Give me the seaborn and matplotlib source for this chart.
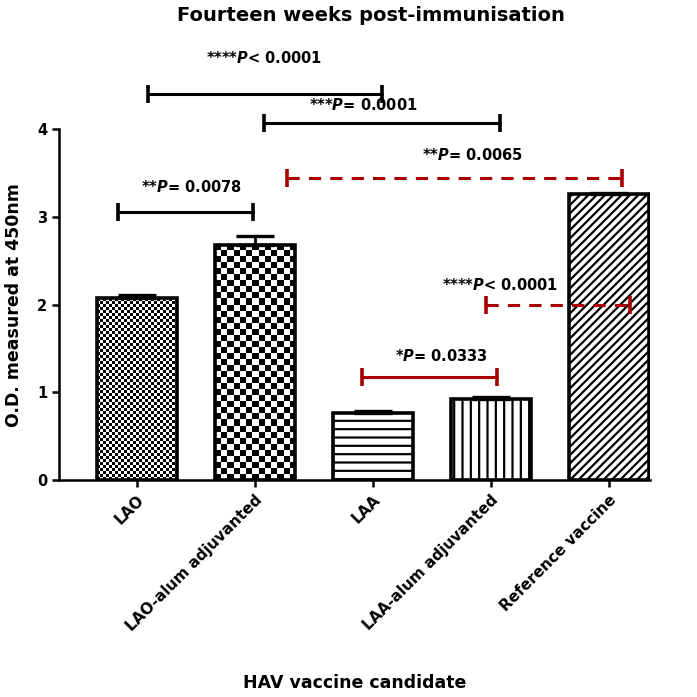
import matplotlib
matplotlib.use("Agg")
import matplotlib.pyplot as plt
import seaborn as sns
import numpy as np
import pandas as pd

sns.set_style("white")
plt.rcParams['font.family'] = ['DejaVu Sans']
plt.rcParams['font.weight'] = 'bold'
plt.rcParams['mathtext.fontset'] = 'custom'
plt.rcParams['mathtext.it'] = 'DejaVu Sans:italic:bold'
plt.rcParams['mathtext.rm'] = 'DejaVu Sans:bold'
plt.rcParams['hatch.linewidth'] = 1.6
plt.rcParams['text.color'] = 'black'
plt.rcParams['axes.labelcolor'] = 'black'

# data
categories = ['LAO', 'LAO-alum adjuvanted', 'LAA', 'LAA-alum adjuvanted', 'Reference vaccine']
means = [2.07, 2.68, 0.77, 0.92, 3.26]
sems = [0.04, 0.10, 0.02, 0.03, 0.01]

# significance brackets (data coords)
sig_labels = ['****$P$< 0.0001', '***$P$= 0.0001', '**$P$= 0.0078',
              '**$P$= 0.0065', '****$P$< 0.0001', '*$P$= 0.0333']
sig_left = [0.09, 1.08, -0.16, 1.27, 2.96, 1.91]
sig_right = [2.08, 3.08, 0.98, 4.11, 4.18, 3.05]
sig_y = [4.40, 4.07, 3.05, 3.44, 1.99, 1.17]
label_x = [1.08, 1.92, 0.46, 2.84, 3.08, 2.58]
label_y = [4.81, 4.27, 3.34, 3.70, 2.22, 1.42]
sig_red = [False, False, False, True, True, True]
sig_dashed = [False, False, False, True, True, False]

df = pd.DataFrame({'candidate': categories, 'od': means})

fig = plt.figure(figsize=(6.97, 6.97), dpi=100)
ax = fig.add_axes([0.0847, 0.311, 0.848, 0.504])

sns.barplot(data=df, x='candidate', y='od', ax=ax, width=0.68,
            color='white', edgecolor='black', linewidth=2.6, saturation=1)

hatches = [None, None, '--', '||', '////']
for p, h in zip(ax.patches, hatches):
    p.set_facecolor('white')
    p.set_zorder(2)
    if h:
        p.set_hatch(h)

ax.set_xlim(-0.66, 4.35)
ax.set_ylim(0, 4)

# checkerboard textures for the LAO bars
fig.canvas.draw()
for p, cell in zip(ax.patches[:2], [3.0, 6.0]):
    p.set_facecolor('none')
    x0, y0, w, h = p.get_x(), p.get_y(), p.get_width(), p.get_height()
    (px0, py0), (px1, py1) = ax.transData.transform([(x0, y0), (x0 + w, y0 + h)])
    cols = max(1, int(round((px1 - px0) / cell)))
    rows = max(1, int(round((py1 - py0) / cell)))
    board = np.indices((rows, cols)).sum(0) % 2
    im = ax.imshow(board, cmap='gray', extent=(x0, x0 + w, y0, y0 + h),
                   aspect='auto', interpolation='nearest', zorder=1.5)
    im.set_clip_path(p)

ax.set_xlim(-0.66, 4.35)
ax.set_ylim(0, 4)

# one-sided error bars
ax.errorbar(range(len(means)), means, yerr=[np.zeros(len(sems)), sems],
            fmt='none', ecolor='black', elinewidth=2, capsize=14, capthick=2.4,
            zorder=3)

# significance brackets
for lab, x1, x2, y, lx, ly, red, dashed in zip(sig_labels, sig_left, sig_right, sig_y,
                                              label_x, label_y, sig_red, sig_dashed):
    c = '#a80000' if red else 'black'
    ax.plot([x1, x2], [y, y], color=c, lw=2.2, ls=(0, (4, 3)) if dashed else '-',
            clip_on=False, zorder=4)
    ax.plot([x1, x2], [y, y], ls='none', marker='|', markersize=13,
            markeredgewidth=2.6, color=c, clip_on=False, zorder=4)
    ax.text(lx, ly, lab, ha='center', va='center', fontsize=10.5, fontweight='bold',
            color='black')

sns.despine(ax=ax, top=True, right=True)
for s in ['left', 'bottom']:
    ax.spines[s].set_linewidth(1.8)
    ax.spines[s].set_color('black')

ax.set_yticks([0, 1, 2, 3, 4])
ax.tick_params(axis='both', direction='out', length=5, width=1.8, colors='black',
               labelsize=10.5, bottom=True, left=True)
ax.set_xticks(range(len(categories)))
ax.set_xticklabels(categories, rotation=45, ha='right', rotation_mode='anchor',
                   fontweight='bold', fontsize=11)
for t in ax.get_yticklabels():
    t.set_fontweight('bold')

ax.set_xlabel('HAV vaccine candidate', fontsize=12.5, fontweight='bold')
ax.xaxis.label.set_va('center')
ax.xaxis.set_label_coords(0.5, -0.578)
ax.set_ylabel('O.D. measured at 450nm', fontsize=12.5, fontweight='bold')
ax.yaxis.label.set_va('center')
ax.yaxis.set_label_coords(-0.077, 0.5)

fig.text(0.532, 0.978, 'Fourteen weeks post-immunisation', ha='center', va='center',
         fontsize=14, fontweight='bold')

fig.savefig('out.png', dpi=100, facecolor='white')
